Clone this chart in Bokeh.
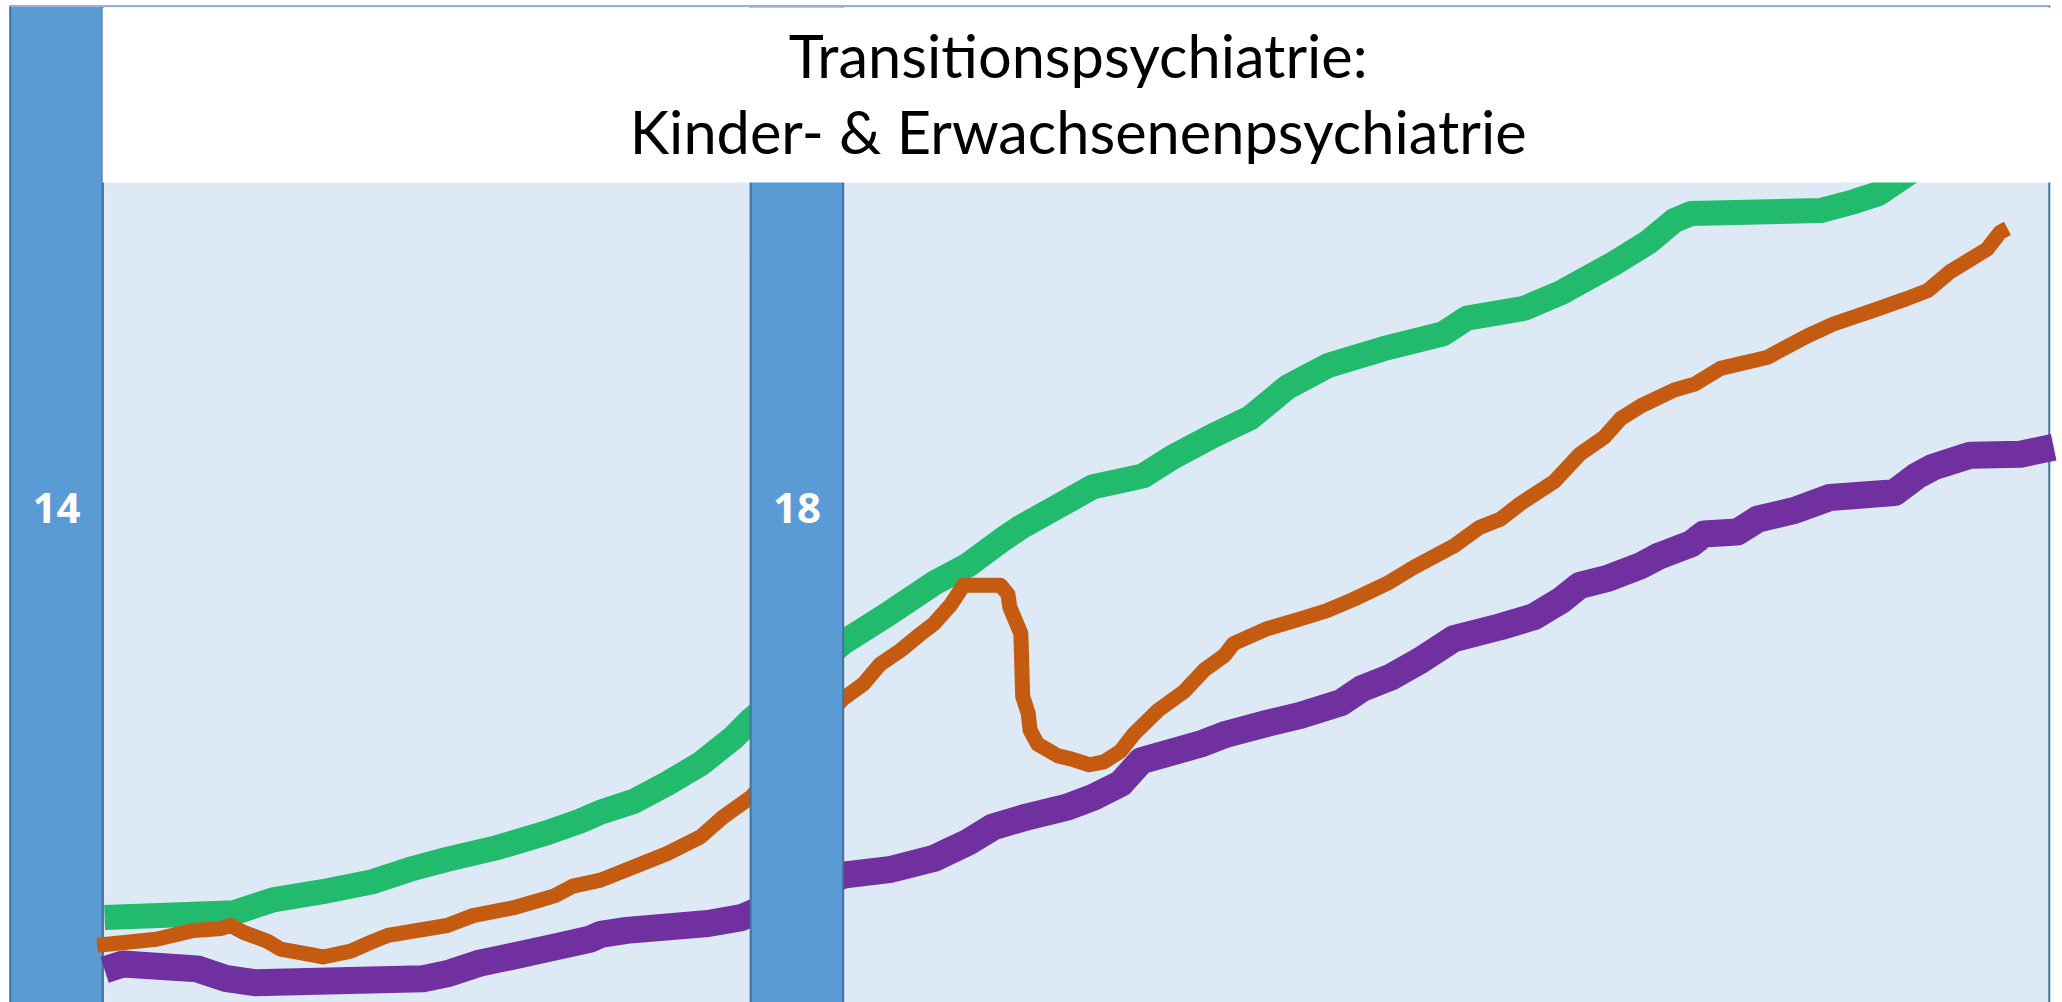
from bokeh.plotting import figure
from bokeh.embed import file_html
from bokeh.resources import INLINE
from bokeh.core.properties import value

# ---------------- data ----------------
# x: Alter (Jahre), y: relative Ausprägung (0-100)
transition_ages = [14, 18]
transition_labels = ["14", "18"]

green_age = [14.26, 14.96, 15.17, 15.43, 15.70, 15.91, 16.11, 16.38, 16.65, 16.83,
             16.94, 17.12, 17.30, 17.48, 17.66, 17.75, 18.25, 18.51, 18.74, 18.92,
             19.10, 19.21, 19.42, 19.60, 19.75, 19.87, 20.03, 20.25, 20.45, 20.65,
             20.87, 21.17, 21.49, 21.62, 21.93, 22.13, 22.41, 22.60, 22.74, 22.83,
             23.53, 23.71, 23.84, 24.03, 24.29]
green_val = [7.8, 8.3, 9.6, 10.4, 11.4, 12.7, 13.7, 14.9, 16.4, 17.6,
             18.5, 19.6, 21.4, 23.4, 26.1, 27.8, 35.7, 38.8, 41.7, 43.5,
             46.0, 47.4, 49.6, 51.5, 52.1, 52.6, 54.5, 56.7, 58.5, 61.6,
             63.8, 65.5, 67.0, 68.6, 69.6, 71.2, 74.1, 76.3, 78.5, 79.2,
             79.5, 80.4, 81.2, 83.6, 85.6]

orange_age = [14.22, 14.54, 14.74, 14.89, 14.94, 15.01, 15.14, 15.21, 15.39, 15.44,
              15.59, 15.70, 15.79, 16.11, 16.25, 16.47, 16.69, 16.79, 16.94, 17.30,
              17.48, 17.60, 17.75, 18.25, 18.36, 18.45, 18.56, 18.67, 18.74, 18.83,
              18.90, 19.10, 19.14, 19.15, 19.21, 19.22, 19.25, 19.26, 19.30, 19.41,
              19.48, 19.58, 19.66, 19.75, 19.82, 19.95, 20.09, 20.20, 20.31, 20.36,
              20.54, 20.72, 20.86, 21.01, 21.19, 21.33, 21.55, 21.69, 21.80, 21.91,
              22.09, 22.23, 22.36, 22.45, 22.56, 22.74, 22.85, 22.99, 23.24, 23.46,
              23.60, 23.82, 24.00, 24.11, 24.23, 24.43, 24.50, 24.54]
orange_val = [5.0, 5.6, 6.5, 6.7, 7.0, 6.3, 5.4, 4.6, 4.0, 3.8,
              4.4, 5.3, 6.0, 7.0, 8.0, 8.8, 10.0, 11.0, 11.6, 14.3,
              16.0, 18.0, 20.0, 30.0, 31.5, 33.5, 34.9, 36.6, 37.6, 39.5,
              41.5, 41.5, 40.6, 39.3, 36.6, 30.2, 28.5, 26.8, 25.4, 24.2,
              23.9, 23.3, 23.6, 24.7, 26.4, 28.8, 30.7, 32.9, 34.4, 35.6,
              37.1, 38.1, 38.9, 40.1, 41.7, 43.3, 45.5, 47.4, 48.2, 49.8,
              52.0, 54.8, 56.5, 58.4, 59.7, 61.3, 61.9, 63.5, 64.6, 66.8,
              68.0, 69.4, 70.6, 71.4, 73.3, 75.6, 77.3, 77.7]

purple_age = [14.26, 14.36, 14.76, 14.92, 15.07, 15.98, 16.11, 16.29, 16.47, 16.69,
              16.88, 16.94, 17.08, 17.52, 17.70, 18.25, 18.51, 18.74, 18.83, 18.92,
              19.06, 19.24, 19.46, 19.60, 19.75, 19.86, 20.18, 20.32, 20.54, 20.72,
              20.94, 21.05, 21.21, 21.37, 21.55, 21.80, 21.98, 22.13, 22.23, 22.38,
              22.56, 22.65, 22.83, 22.90, 23.08, 23.19, 23.39, 23.58, 23.93, 24.05,
              24.14, 24.34, 24.61, 24.79]
purple_val = [2.5, 3.1, 2.6, 1.6, 1.2, 1.6, 2.1, 3.2, 3.9, 4.8,
              5.6, 6.1, 6.5, 7.2, 7.8, 12.1, 12.7, 13.8, 14.6, 15.4,
              17.0, 18.0, 19.0, 20.0, 21.4, 23.7, 25.4, 26.4, 27.5, 28.3,
              29.6, 31.0, 32.2, 33.9, 36.1, 37.3, 38.3, 40.0, 41.5, 42.2,
              43.5, 44.4, 45.7, 46.7, 46.9, 48.2, 49.1, 50.4, 50.9, 52.6,
              53.5, 54.7, 54.8, 55.5]

title_lines = ["Transitionspsychiatrie:", "Kinder- & Erwachsenenpsychiatrie"]

# ---------------- layout / style ----------------
X0, X1 = 13.6975, 24.8374
Y0, Y1 = -0.811, 100.81
TOP = 100.25
BAR_HALF = 0.25
AREA_LEFT, AREA_RIGHT = 14.249, 24.766
TITLE_BOTTOM = 82.35
TITLE_LEFT, TITLE_RIGHT = 14.249, 24.79
TITLE_X = (TITLE_LEFT + TITLE_RIGHT) / 2
TITLE_Y = [95.3, 87.6]
LABEL_Y = 49.3

BG = "#DDEAF6"
BAR_FILL = "#5B9BD5"
BAR_LINE = "#41719C"
GREEN = "#22BA6C"
ORANGE = "#C55A11"
PURPLE = "#7030A0"

p = figure(width=2062, height=1002, x_range=(X0, X1), y_range=(Y0, Y1),
           x_axis_type=None, y_axis_type=None, output_backend="svg",
           toolbar_location=None, min_border=0, background_fill_color="white",
           border_fill_color="white")
p.outline_line_color = None
p.grid.visible = False

# light-blue chart area
p.quad(left=[AREA_LEFT], right=[AREA_RIGHT], bottom=[Y0 - 5], top=[TOP],
       fill_color=BG, line_color=BAR_LINE, line_width=2)

# first transition bar (age 14)
p.quad(left=[transition_ages[0] - BAR_HALF], right=[transition_ages[0] + BAR_HALF],
       bottom=[Y0 - 5], top=[TOP], fill_color=BAR_FILL, line_color=BAR_LINE,
       line_width=2)

# the three developmental curves
p.line(green_age, green_val, line_width=25, line_color=GREEN, line_join="round", line_cap="butt")
p.line(purple_age, purple_val, line_width=27, line_color=PURPLE, line_join="round", line_cap="butt")
p.line(orange_age, orange_val, line_width=15, line_color=ORANGE, line_join="round", line_cap="butt")

# second transition bar (age 18) drawn over the curves
p.quad(left=[transition_ages[1] - BAR_HALF], right=[transition_ages[1] + BAR_HALF],
       bottom=[Y0 - 5], top=[TOP], fill_color=BAR_FILL, line_color=BAR_LINE,
       line_width=2)

# white title box
p.quad(left=[TITLE_LEFT], right=[TITLE_RIGHT], bottom=[TITLE_BOTTOM], top=[TOP - 0.15],
       fill_color="white", line_color=None)
# thin top rule
p.segment(x0=[transition_ages[0] - BAR_HALF], x1=[AREA_RIGHT], y0=[TOP], y1=[TOP],
          line_color="#B4C7E7", line_width=1.5)

p.text(x=[TITLE_X, TITLE_X], y=TITLE_Y, text=title_lines,
       text_font=value("Lato"), text_font_size="59.5px", text_color="black",
       text_align="center", text_baseline="alphabetic")

p.text(x=transition_ages, y=[LABEL_Y, LABEL_Y], text=transition_labels,
       text_font=value("Open Sans"), text_font_style="bold", text_font_size="42px",
       text_color="white", text_align="center", text_baseline="alphabetic")

open("out.html", "w").write(file_html(p, INLINE))
